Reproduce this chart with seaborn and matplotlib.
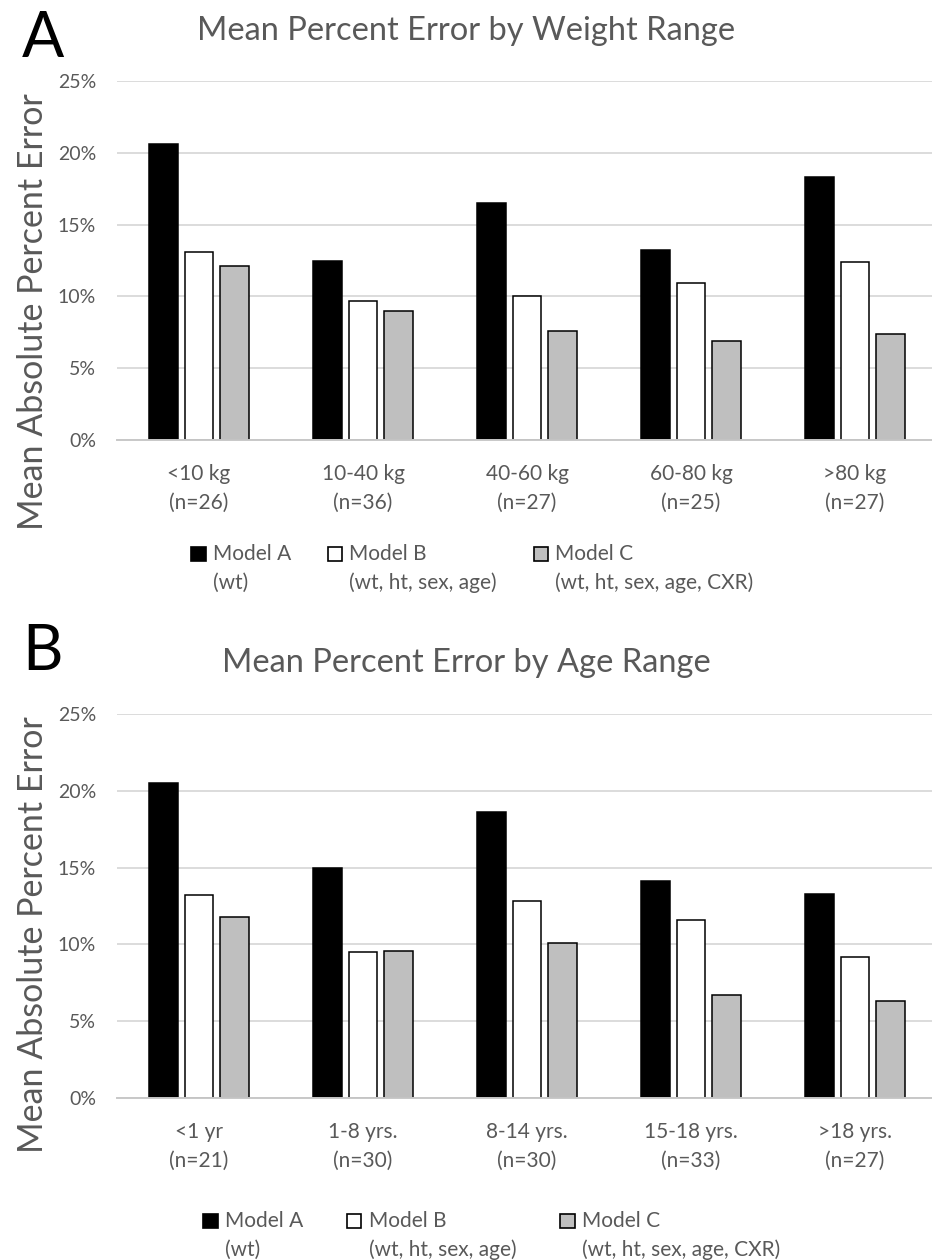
import numpy as np
import pandas as pd
import matplotlib
matplotlib.use("Agg")
import matplotlib.pyplot as plt
from matplotlib.patches import Rectangle, Patch
from matplotlib.legend_handler import HandlerPatch
from matplotlib.ticker import PercentFormatter
import seaborn as sns

# ---------------- data ----------------
models = ["Model A\n(wt)", "Model B\n(wt, ht, sex, age)", "Model C\n(wt, ht, sex, age, CXR)"]
model_keys = ["Model A", "Model B", "Model C"]

weight_cats = ["<10 kg\n(n=26)", "10-40 kg\n(n=36)", "40-60 kg\n(n=27)", "60-80 kg\n(n=25)", ">80 kg\n(n=27)"]
weight_A = [20.6, 12.5, 16.5, 13.2, 18.3]
weight_B = [13.1, 9.7, 10.0, 10.9, 12.4]
weight_C = [12.1, 9.0, 7.6, 6.9, 7.4]

age_cats = ["<1 yr\n(n=21)", "1-8 yrs.\n(n=30)", "8-14 yrs.\n(n=30)", "15-18 yrs.\n(n=33)", ">18 yrs.\n(n=27)"]
age_A = [20.5, 15.0, 18.6, 14.1, 13.3]
age_B = [13.2, 9.5, 12.8, 11.6, 9.2]
age_C = [11.8, 9.6, 10.1, 6.7, 6.3]

title_A = "Mean Percent Error by Weight Range"
title_B = "Mean Percent Error by Age Range"
ylabel = "Mean Absolute Percent Error"

# ---------------- style ----------------
sns.set_theme(style="white")
plt.rcParams["font.family"] = ["Lato", "DejaVu Sans"]
GRAY = "#595959"
colors = ["#000000", "#FFFFFF", "#BFBFBF"]

W, H = 932, 1260
fig = plt.figure(figsize=(W / 100, H / 100), dpi=100)


def long_df(cats, a, b, c):
    rows = []
    for key, vals in zip(model_keys, [a, b, c]):
        for cat, v in zip(cats, vals):
            rows.append({"cat": cat, "val": v, "model": key})
    return pd.DataFrame(rows)


class FirstLineSquare(HandlerPatch):
    def create_artists(self, legend, orig_handle, xdescent, ydescent,
                       width, height, fontsize, trans):
        s = 0.7 * fontsize
        p = Rectangle((-xdescent, -ydescent + 0.72 * fontsize), s, s,
                      facecolor=orig_handle.get_facecolor(),
                      edgecolor="black", linewidth=1.2, transform=trans)
        return [p]


def panel(rect, cats, a, b, c, title, title_base_y, letter, letter_base_y,
          ylabel_center_y, leg_xy, colspacing):
    ax = fig.add_axes(rect)
    df = long_df(cats, a, b, c)
    sns.barplot(data=df, x="cat", y="val", hue="model", hue_order=model_keys,
                order=cats, palette=colors, saturation=1, edgecolor="black",
                linewidth=1.1, width=0.65, gap=0.2, errorbar=None, ax=ax,
                legend=False)
    ax.set_ylim(0, 25)
    ax.set_xlim(-0.5, len(cats) - 0.5)
    ax.set_yticks([0, 5, 10, 15, 20, 25])
    ax.yaxis.set_major_formatter(PercentFormatter(100, decimals=0))
    ax.yaxis.grid(True, color="#D9D9D9", linewidth=1.3)
    ax.set_axisbelow(True)
    for s in ["top", "right", "left"]:
        ax.spines[s].set_visible(False)
    ax.spines["bottom"].set_color("#C8C8C8")
    ax.spines["bottom"].set_linewidth(1.4)
    ax.set_xlabel("")
    ax.set_ylabel("")
    ax.tick_params(axis="y", length=0, pad=15, labelsize=14, labelcolor=GRAY)
    ax.tick_params(axis="x", length=0, pad=17, labelsize=15, labelcolor=GRAY)
    for t in ax.get_xticklabels():
        t.set_linespacing(1.6)

    fig.text(0.5, 1 - title_base_y / H, title, ha="center", va="baseline",
             fontsize=23.5, color=GRAY)
    fig.text(43 / W, 1 - letter_base_y / H, letter, ha="center", va="baseline",
             fontsize=45, color="black")
    fig.text(43 / W, 1 - ylabel_center_y / H, ylabel, rotation=90,
             rotation_mode="anchor", ha="center", va="baseline",
             fontsize=24.5, color=GRAY)

    handles = [Patch(facecolor=col, edgecolor="black") for col in colors]
    leg = ax.legend(handles, models, loc="upper left",
                    bbox_to_anchor=(leg_xy[0] / W, 1 - leg_xy[1] / H),
                    bbox_transform=fig.transFigure, ncol=3, frameon=False,
                    fontsize=15, handlelength=0.7, handleheight=0.7,
                    handletextpad=0.35, columnspacing=colspacing,
                    borderpad=0, borderaxespad=0,
                    handler_map={Patch: FirstLineSquare()})
    for t in leg.get_texts():
        t.set_color(GRAY)
        t.set_linespacing(1.5)
    return ax


ax_left = 117 / W
ax_width = 820 / W

panel([ax_left, 1 - 440 / H, ax_width, 359 / H], weight_cats,
      weight_A, weight_B, weight_C, title_A, 40, "A", 57, 312,
      (191, 544), 1.75)
panel([ax_left, 1 - 1098 / H, ax_width, 384 / H], age_cats,
      age_A, age_B, age_C, title_B, 672, "B", 670, 935,
      (203, 1211), 2.1)

fig.savefig("out.png", dpi=100)
